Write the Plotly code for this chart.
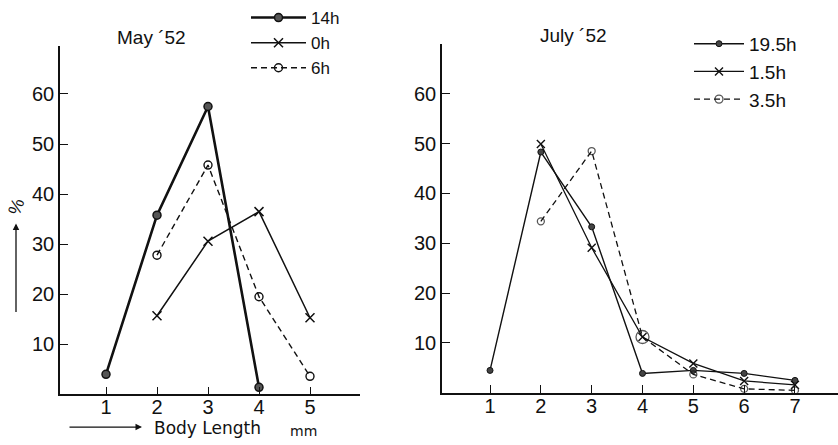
import plotly.graph_objects as go

# ---- data ----
may_x_14h = [1, 2, 3, 4]
may_14h = [4.0, 35.8, 57.5, 1.4]
may_x_0h = [2, 3, 4, 5]
may_0h = [15.7, 30.6, 36.5, 15.3]
may_x_6h = [2, 3, 4, 5]
may_6h = [27.8, 45.8, 19.5, 3.6]

jul_x_195h = [1, 2, 3, 4, 5, 6, 7]
jul_195h = [4.5, 48.3, 33.3, 3.9, 4.5, 3.9, 2.5]
jul_x_15h = [2, 3, 4, 5, 6, 7]
jul_15h = [49.9, 29.1, 11.2, 5.9, 2.4, 1.6]
jul_x_35h = [2, 3, 4, 5, 6, 7]
jul_35h = [34.4, 48.5, 11.2, 3.7, 0.8, 0.5]

may_ticks = [1, 2, 3, 4, 5]
jul_ticks = [1, 2, 3, 4, 5, 6, 7]
y_ticks = [10, 20, 30, 40, 50, 60]

W, H = 838, 445
FONT = "Liberation Sans, Arial, sans-serif"
FONT2 = "DejaVu Sans, sans-serif"
BLACK = "#111111"

fig = go.Figure()

# ---- May panel ----
fig.add_trace(go.Scatter(
    x=may_x_14h, y=may_14h, name="14h", mode="lines+markers",
    line=dict(color=BLACK, width=2.6),
    marker=dict(symbol="circle", size=8, color="#555555", line=dict(color=BLACK, width=1.5)),
    xaxis="x", yaxis="y", legend="legend"))
fig.add_trace(go.Scatter(
    x=may_x_0h, y=may_0h, name="0h", mode="lines+markers",
    line=dict(color=BLACK, width=1.5),
    marker=dict(symbol="x-thin", size=9, color=BLACK, line=dict(color=BLACK, width=1.5)),
    xaxis="x", yaxis="y", legend="legend"))
fig.add_trace(go.Scatter(
    x=may_x_6h, y=may_6h, name="6h", mode="lines+markers",
    line=dict(color=BLACK, width=1.4, dash="6px,4px"),
    marker=dict(symbol="circle-open", size=8, color=BLACK, line=dict(color=BLACK, width=1.4)),
    xaxis="x", yaxis="y", legend="legend"))

# ---- July panel ----
fig.add_trace(go.Scatter(
    x=jul_x_195h, y=jul_195h, name="19.5h", mode="lines+markers",
    line=dict(color=BLACK, width=1.4),
    marker=dict(symbol="circle", size=6, color="#444444", line=dict(color=BLACK, width=1)),
    xaxis="x2", yaxis="y2", legend="legend2"))
fig.add_trace(go.Scatter(
    x=jul_x_15h, y=jul_15h, name="1.5h", mode="lines+markers",
    line=dict(color=BLACK, width=1.3),
    marker=dict(symbol="x-thin", size=8, color=BLACK, line=dict(color=BLACK, width=1.4)),
    xaxis="x2", yaxis="y2", legend="legend2"))
fig.add_trace(go.Scatter(
    x=jul_x_35h, y=jul_35h, name="3.5h", mode="lines+markers",
    line=dict(color=BLACK, width=1.3, dash="6px,4px"),
    marker=dict(symbol="circle-open", size=[7, 7, 13, 7, 7, 7], color=BLACK,
                line=dict(color=BLACK, width=1.3)),
    xaxis="x2", yaxis="y2", legend="legend2"))

def px_x(p):
    return p / W

def px_y(p):
    return 1 - p / H

axis_common = dict(
    showgrid=False, zeroline=False, showline=True, linecolor=BLACK, linewidth=1.5,
    ticks="inside", ticklen=8, tickwidth=1.2, tickcolor=BLACK,
    tickfont=dict(family=FONT, size=20, color=BLACK), fixedrange=True,
)

fig.update_layout(
    width=W, height=H,
    margin=dict(l=0, r=0, t=0, b=0),
    paper_bgcolor="white", plot_bgcolor="white",
    font=dict(family=FONT, color=BLACK),
    xaxis=dict(domain=[px_x(60), px_x(360)], range=[1 - 46 / 51, 5 + 50 / 51],
               tickvals=may_ticks, anchor="y", ticklabelstandoff=-6, **axis_common),
    yaxis=dict(domain=[px_y(394), px_y(43)], range=[0, (394 - 43) / 5.04],
               tickvals=y_ticks, anchor="x", **axis_common),
    xaxis2=dict(domain=[px_x(442), 1.0], range=[1 - 48 / 50.8, 7 + 43 / 50.8],
                tickvals=jul_ticks, anchor="y2", ticklabelstandoff=-6, **axis_common),
    yaxis2=dict(domain=[px_y(392.5), px_y(41.7)], range=[0, (392.5 - 41.7) / 5.02],
                tickvals=y_ticks, anchor="x2", **axis_common),
    legend=dict(x=px_x(246), y=1.0 + 3 / H, xanchor="left", yanchor="top",
                bgcolor="rgba(0,0,0,0)", font=dict(family=FONT, size=17, color=BLACK),
                itemwidth=55, tracegroupgap=0),
    legend2=dict(x=px_x(689), y=px_y(22), xanchor="left", yanchor="top",
                 bgcolor="rgba(0,0,0,0)", font=dict(family=FONT, size=19, color=BLACK),
                 itemwidth=50, tracegroupgap=0),
    annotations=[
        dict(text="May \u00b452", x=px_x(151), y=px_y(35), xref="paper", yref="paper",
             xanchor="center", yanchor="middle",
             showarrow=False, font=dict(family=FONT, size=19, color=BLACK)),
        dict(text="July \u00b452", x=px_x(573), y=px_y(33), xref="paper", yref="paper",
             xanchor="center", yanchor="middle",
             showarrow=False, font=dict(family=FONT, size=19, color=BLACK)),
        dict(text="%", x=px_x(16), y=px_y(205), xref="paper", yref="paper",
             xanchor="center", yanchor="middle",
             showarrow=False, textangle=-70, font=dict(family=FONT, size=18, color=BLACK)),
        dict(text="", x=px_x(16), y=px_y(222), xref="paper", yref="paper",
             ax=0, ay=90, axref="pixel", ayref="pixel",
             showarrow=True, arrowhead=2, arrowsize=1, arrowwidth=1.3, arrowcolor=BLACK),
        dict(text="", x=px_x(142), y=px_y(427), xref="paper", yref="paper",
             ax=-74, ay=0, axref="pixel", ayref="pixel",
             showarrow=True, arrowhead=2, arrowsize=1, arrowwidth=1.3, arrowcolor=BLACK),
        dict(text="Body Length", x=px_x(152), y=px_y(428), xref="paper", yref="paper",
             xanchor="left", yanchor="middle", showarrow=False,
             font=dict(family=FONT2, size=17, color=BLACK)),
        dict(text="mm", x=px_x(288), y=px_y(431), xref="paper", yref="paper",
             xanchor="left", yanchor="middle", showarrow=False,
             font=dict(family=FONT2, size=14, color=BLACK)),
    ],
)

fig.write_html("out.html", config={"displayModeBar": False},
               post_script="document.body.style.margin='0px';")
